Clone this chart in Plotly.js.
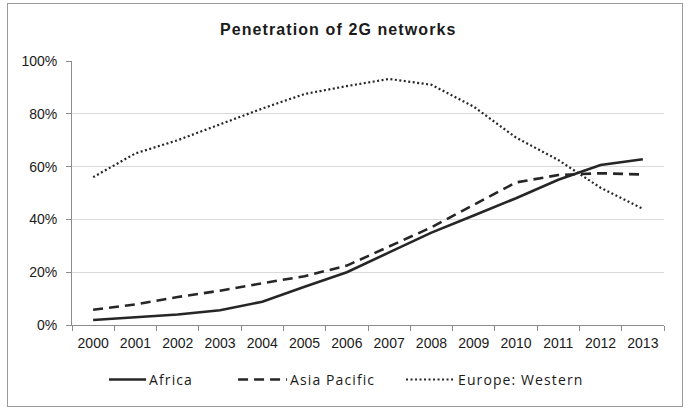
<!DOCTYPE html>
<html>
<head>
<meta charset="utf-8">
<script src="https://cdn.plot.ly/plotly-3.0.1.min.js"></script>
<style>
  html, body { margin: 0; padding: 0; background: #fff; }
  #wrap { position: relative; width: 686px; height: 409px; }
  #chart { width: 686px; height: 409px; }
  #frame { position: absolute; left: 7px; top: 3px; width: 674px; height: 402px;
           border: 1.5px solid #9a9a9a; pointer-events: none; }
  .legendtext { letter-spacing: 1.1px; }
  .gtitle { letter-spacing: 1.1px; }
</style>
</head>
<body>
<div id="wrap">
  <div id="chart"></div>
  <div id="frame"></div>
</div>
<script>
const years = ["2000","2001","2002","2003","2004","2005","2006","2007","2008","2009","2010","2011","2012","2013"];
const africa = [0.019, 0.030, 0.040, 0.056, 0.088, 0.145, 0.200, 0.275, 0.350, 0.415, 0.480, 0.550, 0.606, 0.628];
const asiaPacific = [0.058, 0.078, 0.106, 0.130, 0.158, 0.185, 0.225, 0.297, 0.370, 0.455, 0.540, 0.568, 0.575, 0.570];
const europeWestern = [0.560, 0.650, 0.700, 0.760, 0.820, 0.875, 0.905, 0.932, 0.910, 0.827, 0.710, 0.625, 0.520, 0.440];
const yTicks = [0, 0.2, 0.4, 0.6, 0.8, 1.0];
const seriesNames = ['Africa', 'Asia Pacific', 'Europe: Western'];

const pad = n => '\u00A0'.repeat(n);
const lineColor = '#262626';
const traces = [
  {x: years, y: africa, name: seriesNames[0] + pad(11), type: 'scatter', mode: 'lines',
   line: {color: lineColor, width: 2.6, dash: 'solid'}},
  {x: years, y: asiaPacific, name: seriesNames[1] + pad(8), type: 'scatter', mode: 'lines',
   line: {color: lineColor, width: 2.6, dash: '10px,6px'}},
  {x: years, y: europeWestern, name: seriesNames[2], type: 'scatter', mode: 'lines',
   line: {color: lineColor, width: 2.2, dash: '2px,2.5px'}}
];

const layout = {
  width: 686, height: 409,
  margin: {l: 72, r: 22, t: 61, b: 84, pad: 0},
  paper_bgcolor: '#fff', plot_bgcolor: '#fff',
  font: {family: 'Liberation Sans, Arial, sans-serif', size: 14, color: '#1a1a1a'},
  title: {text: '<b>Penetration of 2G networks</b>', x: 0.493, xanchor: 'center', y: 0.928, yanchor: 'middle',
          font: {family: 'Liberation Sans, Arial, sans-serif', size: 16, color: '#1a1a1a'}},
  showlegend: true,
  legend: {orientation: 'h', x: 0.468, xanchor: 'center', y: -0.208, yanchor: 'middle',
           font: {family: 'Open Sans, sans-serif', size: 14, color: '#1a1a1a'},
           traceorder: 'normal', itemwidth: 30, bgcolor: 'rgba(0,0,0,0)'},
  xaxis: {type: 'category', range: [-0.5, 13.5], tickson: 'boundaries', ticks: 'outside', ticklen: 5,
          tickcolor: '#8c8c8c', tickwidth: 1, showline: true, linecolor: '#8c8c8c', linewidth: 1,
          showgrid: false, zeroline: false, fixedrange: true, ticklabelstandoff: 5,
          tickfont: {size: 14, color: '#1a1a1a'}},
  yaxis: {range: [0, 1], tickvals: yTicks, tickformat: '.0%', ticks: 'outside', ticklen: 5,
          tickcolor: '#8c8c8c', tickwidth: 1, showline: true, linecolor: '#8c8c8c', linewidth: 1,
          showgrid: true, gridcolor: '#d9d9d9', gridwidth: 1, zeroline: false, fixedrange: true,
          ticklabelstandoff: 6, tickfont: {size: 14, color: '#1a1a1a'}}
};

Plotly.newPlot('chart', traces, layout, {staticPlot: true, displayModeBar: false}).then(gd => {
  // lengthen legend line samples to match the reference's longer keys
  gd.querySelectorAll('.legend .js-line').forEach(p => p.setAttribute('d', 'M-12,0h49'));
});
</script>
</body>
</html>
